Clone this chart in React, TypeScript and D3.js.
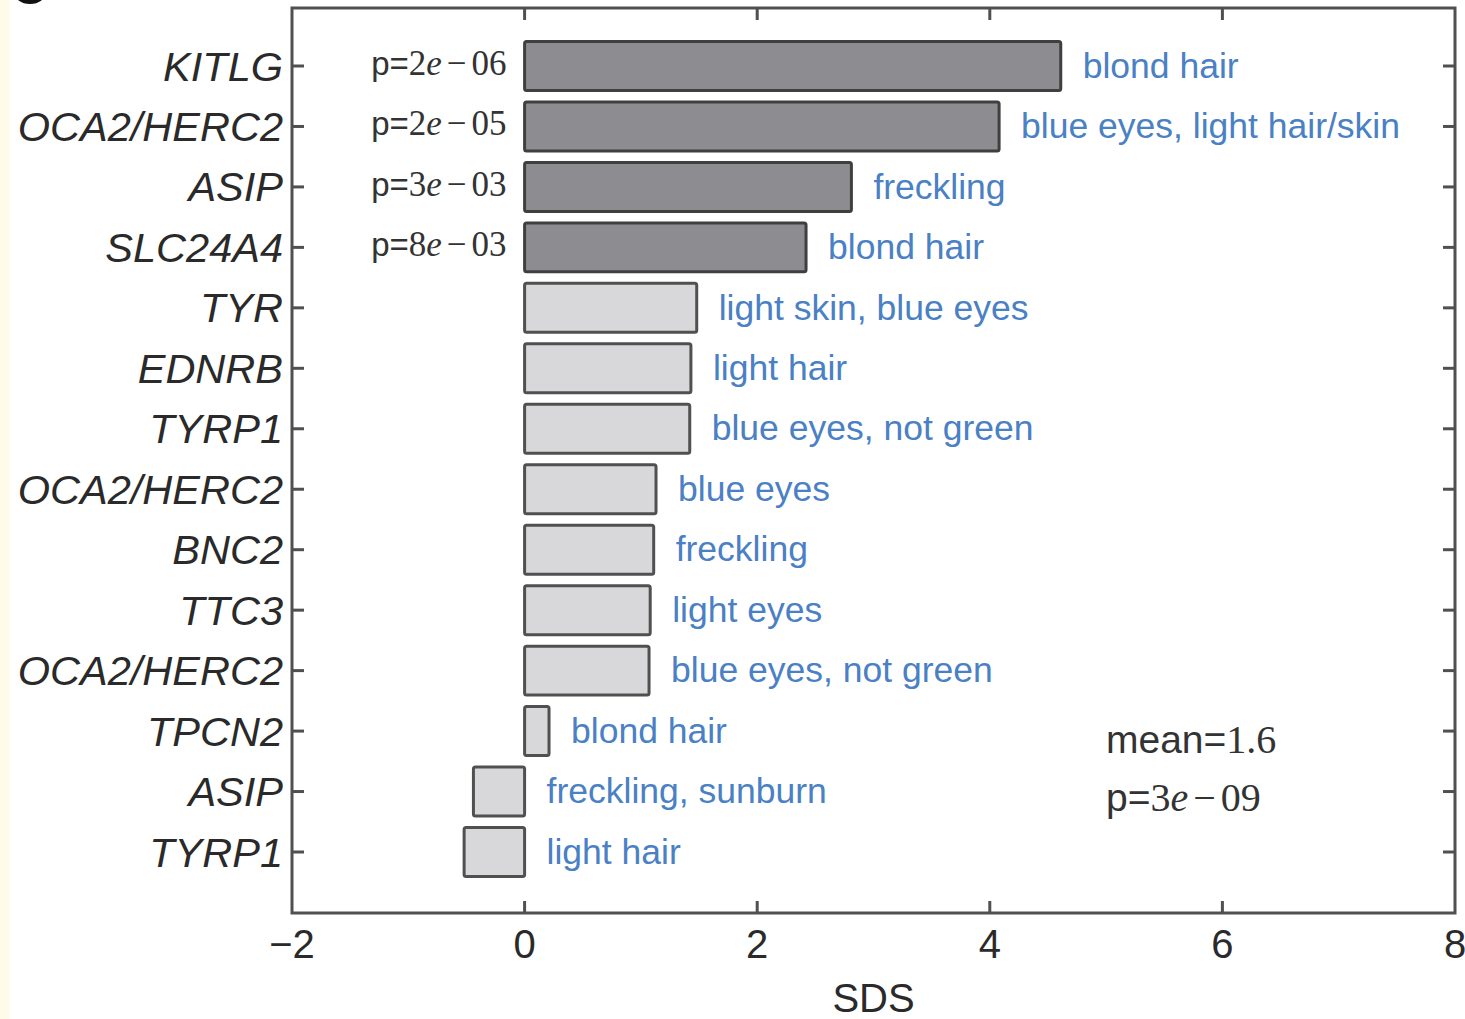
import React, { useEffect, useRef } from 'react';
import * as d3 from 'd3';

const genes = [
  'KITLG', 'OCA2/HERC2', 'ASIP', 'SLC24A4', 'TYR', 'EDNRB', 'TYRP1',
  'OCA2/HERC2', 'BNC2', 'TTC3', 'OCA2/HERC2', 'TPCN2', 'ASIP', 'TYRP1',
];
const sds = [4.61, 4.08, 2.81, 2.42, 1.48, 1.43, 1.42, 1.13, 1.11, 1.08, 1.07, 0.21, -0.44, -0.52];
const traits = [
  'blond hair', 'blue eyes, light hair/skin', 'freckling', 'blond hair',
  'light skin, blue eyes', 'light hair', 'blue eyes, not green', 'blue eyes',
  'freckling', 'light eyes', 'blue eyes, not green', 'blond hair',
  'freckling, sunburn', 'light hair',
];
// p-values shown for the significant loci: [mantissa, exponent]
const pvals: ([string, string] | null)[] = [
  ['2', '06'], ['2', '05'], ['3', '03'], ['8', '03'],
  null, null, null, null, null, null, null, null, null, null,
];
const xTicks = [-2, 0, 2, 4, 6, 8];
const meanLabel = '1.6';
const overallP: [string, string] = ['3', '09'];

const SANS = 'Liberation Sans, Arial, Helvetica, sans-serif';
const SERIF = 'Liberation Serif, Times New Roman, serif';

export default function App() {
  const ref = useRef<SVGSVGElement>(null);

  useEffect(() => {
    const W = 1465, H = 1019;
    const left = 292, right = 1455, top = 8, bottom = 913;

    const svg = d3.select(ref.current);
    svg.selectAll('*').remove();
    svg.attr('width', W).attr('height', H);

    svg.append('rect').attr('width', W).attr('height', H).attr('fill', '#fff');
    svg.append('rect').attr('width', 10).attr('height', H).attr('fill', '#fffbea');

    const x = d3.scaleLinear().domain([-2, 8]).range([left, right]);
    const y = d3.scaleLinear().domain([0, genes.length - 1]).range([66, 852]);
    const step = y(1) - y(0);
    const bh = step * 0.81;

    const g = svg.append('g');

    // bars
    g.selectAll('rect.bar')
      .data(sds)
      .enter()
      .append('rect')
      .attr('class', 'bar')
      .attr('x', (d) => x(Math.min(0, d)))
      .attr('y', (d, i) => y(i) - bh / 2)
      .attr('width', (d) => Math.abs(x(d) - x(0)))
      .attr('height', bh)
      .attr('rx', 2)
      .attr('fill', (d, i) => (pvals[i] ? '#8d8d91' : '#d8d8db'))
      .attr('stroke', (d, i) => (pvals[i] ? '#3f3f3f' : '#505050'))
      .attr('stroke-width', 3);

    // trait labels
    g.selectAll('text.trait')
      .data(traits)
      .enter()
      .append('text')
      .attr('class', 'trait')
      .attr('x', (d, i) => x(Math.max(0, sds[i])) + 22)
      .attr('y', (d, i) => y(i))
      .attr('dy', '0.33em')
      .attr('font-family', SANS)
      .attr('font-size', 35.5)
      .attr('fill', '#4a80c4')
      .text((d) => d);

    // p-values left of the bars
    pvals.forEach((p, i) => {
      if (!p) return;
      const t = g.append('text')
        .attr('x', x(0) - 18)
        .attr('y', y(i) + 9)
        .attr('text-anchor', 'end')
        .attr('font-size', 35)
        .attr('fill', '#333');
      t.append('tspan').attr('font-family', SANS).attr('font-size', 33).text('p=');
      t.append('tspan').attr('font-family', SERIF).text(p[0]);
      t.append('tspan').attr('font-family', SERIF).attr('font-style', 'italic').text('e');
      t.append('tspan').attr('font-family', SERIF).attr('dx', 5).text('\u2212');
      t.append('tspan').attr('font-family', SERIF).attr('dx', 5).text(p[1]);
    });

    // axes box
    const axisColor = '#505050';
    g.append('rect')
      .attr('x', left).attr('y', top)
      .attr('width', right - left).attr('height', bottom - top)
      .attr('fill', 'none').attr('stroke', axisColor).attr('stroke-width', 3);

    const tl = 12;
    // x ticks top and bottom (inward)
    xTicks.slice(1, -1).forEach((t) => {
      g.append('line').attr('x1', x(t)).attr('x2', x(t)).attr('y1', bottom).attr('y2', bottom - tl)
        .attr('stroke', axisColor).attr('stroke-width', 3);
      g.append('line').attr('x1', x(t)).attr('x2', x(t)).attr('y1', top).attr('y2', top + tl)
        .attr('stroke', axisColor).attr('stroke-width', 3);
    });
    // y ticks left and right (inward)
    genes.forEach((d, i) => {
      g.append('line').attr('x1', left).attr('x2', left + tl).attr('y1', y(i)).attr('y2', y(i))
        .attr('stroke', axisColor).attr('stroke-width', 3);
      g.append('line').attr('x1', right).attr('x2', right - tl).attr('y1', y(i)).attr('y2', y(i))
        .attr('stroke', axisColor).attr('stroke-width', 3);
    });

    // x tick labels
    g.selectAll('text.xt')
      .data(xTicks)
      .enter()
      .append('text')
      .attr('class', 'xt')
      .attr('x', (d) => x(d))
      .attr('y', 958)
      .attr('text-anchor', 'middle')
      .attr('font-family', SANS)
      .attr('font-size', 40)
      .attr('fill', '#2a2a2a')
      .text((d) => (d < 0 ? '\u2212' + Math.abs(d) : String(d)));

    g.append('text')
      .attr('x', (left + right) / 2)
      .attr('y', 1012)
      .attr('text-anchor', 'middle')
      .attr('font-family', SANS)
      .attr('font-size', 40)
      .attr('fill', '#2a2a2a')
      .text('SDS');

    // gene labels
    g.selectAll('text.gene')
      .data(genes)
      .enter()
      .append('text')
      .attr('class', 'gene')
      .attr('x', left - 9)
      .attr('y', (d, i) => y(i))
      .attr('dy', '0.35em')
      .attr('text-anchor', 'end')
      .attr('font-family', SANS)
      .attr('font-style', 'italic')
      .attr('font-size', 41.5)
      .attr('fill', '#2a2a2a')
      .text((d) => d);

    // summary annotation
    const m = g.append('text').attr('x', 1106).attr('y', 753).attr('font-size', 40).attr('fill', '#333');
    m.append('tspan').attr('font-family', SANS).attr('font-size', 39).text('mean=');
    m.append('tspan').attr('font-family', SERIF).text(meanLabel);
    const p = g.append('text').attr('x', 1106).attr('y', 811).attr('font-size', 40).attr('fill', '#333');
    p.append('tspan').attr('font-family', SANS).attr('font-size', 39).text('p=');
    p.append('tspan').attr('font-family', SERIF).text(overallP[0]);
    p.append('tspan').attr('font-family', SERIF).attr('font-style', 'italic').text('e');
    p.append('tspan').attr('font-family', SERIF).attr('dx', 5).text('\u2212');
    p.append('tspan').attr('font-family', SERIF).attr('dx', 5).text(overallP[1]);

    // cut-off panel letter at top-left
    svg.append('ellipse').attr('cx', 30).attr('cy', -8).attr('rx', 16).attr('ry', 12).attr('fill', '#111');
  });

  return (
    <div>
      <svg ref={ref} style={{ position: 'absolute', left: 0, top: 0 }}></svg>
    </div>
  );
}
